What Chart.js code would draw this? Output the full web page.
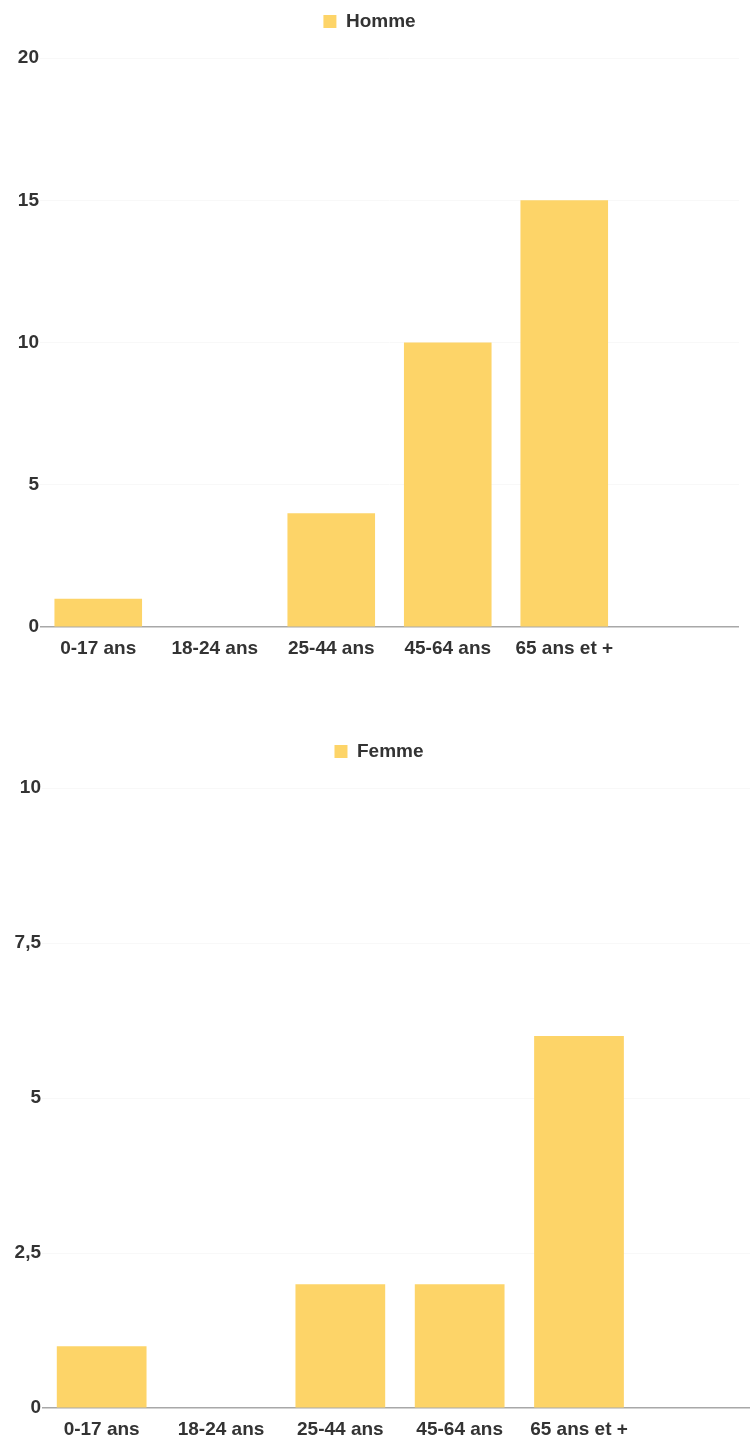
<!DOCTYPE html>
<html lang="fr">
<head>
<meta charset="utf-8">
<title>Répartition par âge</title>
<script src="https://cdn.jsdelivr.net/npm/chart.js@4"></script>
<style>
  html, body { margin: 0; padding: 0; background: #fff; overflow: hidden; }
  body { width: 750px; height: 1443px; position: relative; }
  .box { position: absolute; left: 0; }
  #boxHomme { top: 0; width: 750px; height: 670px; }
  #boxFemme { top: 730px; width: 760px; height: 721px; }
</style>
</head>
<body>
<div class="box" id="boxHomme"><canvas id="chartHomme"></canvas></div>
<div class="box" id="boxFemme"><canvas id="chartFemme"></canvas></div>
<script>
const ageGroups = ['0-17 ans', '18-24 ans', '25-44 ans', '45-64 ans', '65 ans et +', ''];
const homme = [1, 0, 4, 10, 15, null];
const femme = [1, 0, 2, 2, 6, null];

const barColor = '#FDD468';
const textColor = '#333333';
const font = { family: '"Liberation Sans", Arial, sans-serif', size: 19, weight: 'bold' };

// extra room between the legend and the plot
const legendGap = {
    id: 'legendGap',
    beforeInit(chart) {
        const fit = chart.legend.fit;
        chart.legend.fit = function () {
            fit.bind(chart.legend)();
            this.height += 17;
        };
    }
};

function makeChart(id, label, values, yMax, yStep, axisWidth, padRight) {
    return new Chart(document.getElementById(id), {
        type: 'bar',
        data: {
            labels: ageGroups,
            datasets: [{
                label: label,
                data: values,
                backgroundColor: barColor,
                borderWidth: 0,
                barPercentage: 0.94,
                categoryPercentage: 0.8
            }]
        },
        plugins: [legendGap],
        options: {
            responsive: true,
            maintainAspectRatio: false,
            animation: false,
            layout: { padding: { top: 4, right: padRight, bottom: 8, left: 0 } },
            plugins: {
                legend: {
                    position: 'top',
                    labels: {
                        color: textColor,
                        font: font,
                        boxWidth: 13,
                        boxHeight: 13,
                        padding: 8
                    }
                },
                tooltip: { enabled: false }
            },
            scales: {
                x: {
                    grid: { display: false },
                    border: { display: false },
                    ticks: { color: textColor, font: font, padding: 2, maxRotation: 0, autoSkip: false }
                },
                y: {
                    min: 0,
                    max: yMax,
                    border: { display: false },
                    grid: {
                        drawTicks: false,
                        color: (c) => c.tick && c.tick.value === 0 ? '#a8a8a8' : '#f8f8f8',
                        lineWidth: (c) => c.tick && c.tick.value === 0 ? 1.5 : 1
                    },
                    ticks: {
                        stepSize: yStep,
                        color: textColor,
                        font: font,
                        padding: 1,
                        callback: (v) => v.toLocaleString('fr-FR')
                    },
                    afterFit: (scale) => { scale.width = axisWidth; }
                }
            }
        }
    });
}

makeChart('chartHomme', 'Homme', homme, 20, 5, 40, 11);
makeChart('chartFemme', 'Femme', femme, 10, 2.5, 42, 2);
</script>
</body>
</html>
